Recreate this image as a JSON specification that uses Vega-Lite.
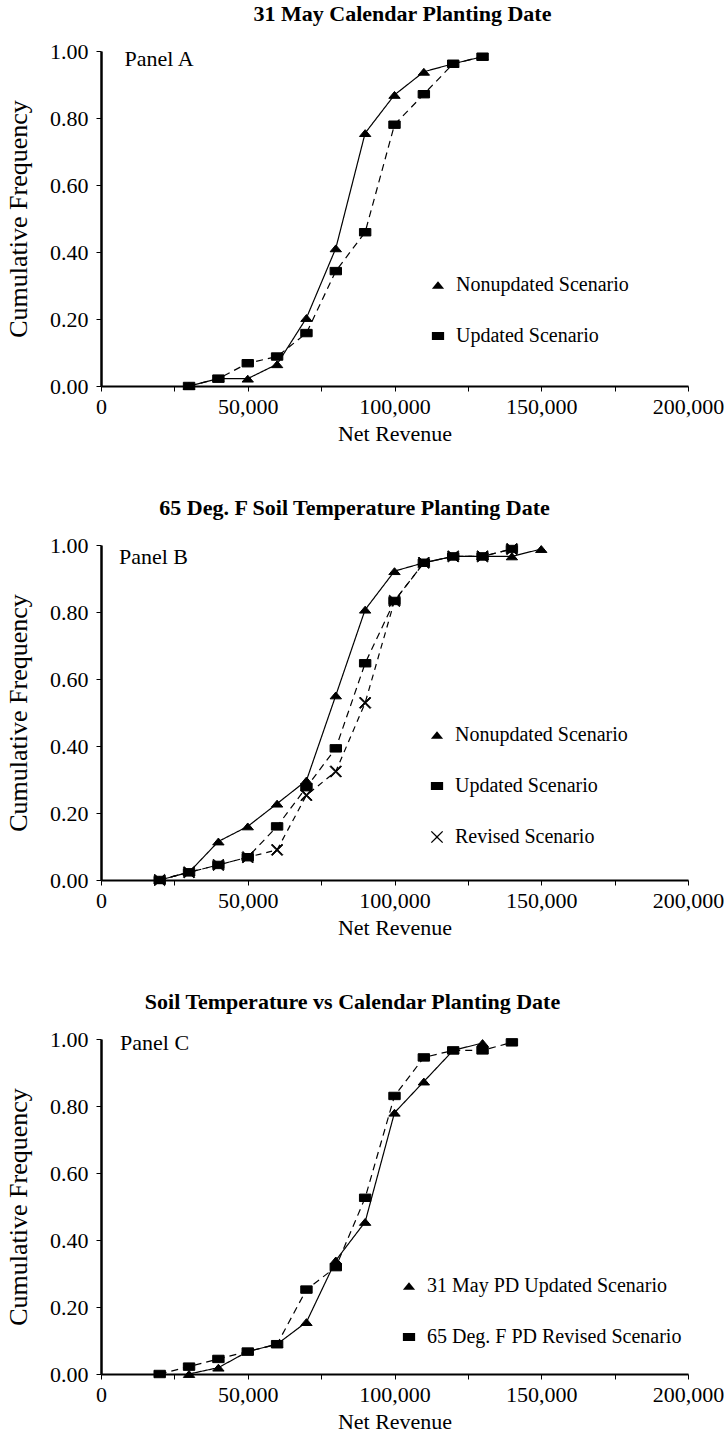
{
  "$schema": "https://vega.github.io/schema/vega-lite/v6.json",
  "background": "white",
  "padding": {"left": 5, "top": 3, "right": 0, "bottom": 0},
  "config": {
    "font": "Liberation Serif",
    "view": {"stroke": null},
    "axis": {
      "grid": false,
      "domainColor": "black",
      "tickColor": "black",
      "labelColor": "black",
      "titleColor": "black",
      "labelFontSize": 22,
      "titleFontSize": 22,
      "titleFontWeight": "normal",
      "labelFont": "Liberation Serif",
      "titleFont": "Liberation Serif",
      "tickSize": 5
    },
    "title": {"fontSize": 22, "fontWeight": "bold", "font": "Liberation Serif", "color": "black", "anchor": "middle", "frame": "group", "offset": 14},
    "legend": {
      "labelFontSize": 20,
      "labelFont": "Liberation Serif",
      "labelColor": "black",
      "labelLimit": 400,
      "symbolSize": 150,
      "labelOffset": 8,
      "rowPadding": 31,
      "symbolFillColor": "black",
      "symbolStrokeColor": "black",
      "symbolStrokeWidth": 1,
      "symbolOpacity": 1
    }
  },
  "datasets": {
    "A": [
      {"series": "Nonupdated Scenario", "revenue": 30000, "freq": 0},
      {"series": "Nonupdated Scenario", "revenue": 40000, "freq": 0.022},
      {"series": "Nonupdated Scenario", "revenue": 50000, "freq": 0.022},
      {"series": "Nonupdated Scenario", "revenue": 60000, "freq": 0.065},
      {"series": "Nonupdated Scenario", "revenue": 70000, "freq": 0.203},
      {"series": "Nonupdated Scenario", "revenue": 80000, "freq": 0.411},
      {"series": "Nonupdated Scenario", "revenue": 90000, "freq": 0.755},
      {"series": "Nonupdated Scenario", "revenue": 100000, "freq": 0.869},
      {"series": "Nonupdated Scenario", "revenue": 110000, "freq": 0.938},
      {"series": "Nonupdated Scenario", "revenue": 120000, "freq": 0.962},
      {"series": "Nonupdated Scenario", "revenue": 130000, "freq": 0.983},
      {"series": "Updated Scenario", "revenue": 30000, "freq": 0},
      {"series": "Updated Scenario", "revenue": 40000, "freq": 0.022},
      {"series": "Updated Scenario", "revenue": 50000, "freq": 0.068},
      {"series": "Updated Scenario", "revenue": 60000, "freq": 0.088},
      {"series": "Updated Scenario", "revenue": 70000, "freq": 0.158},
      {"series": "Updated Scenario", "revenue": 80000, "freq": 0.343},
      {"series": "Updated Scenario", "revenue": 90000, "freq": 0.459},
      {"series": "Updated Scenario", "revenue": 100000, "freq": 0.78},
      {"series": "Updated Scenario", "revenue": 110000, "freq": 0.871},
      {"series": "Updated Scenario", "revenue": 120000, "freq": 0.962},
      {"series": "Updated Scenario", "revenue": 130000, "freq": 0.983}
    ],
    "B": [
      {"series": "Nonupdated Scenario", "revenue": 20000, "freq": 0},
      {"series": "Nonupdated Scenario", "revenue": 30000, "freq": 0.023},
      {"series": "Nonupdated Scenario", "revenue": 40000, "freq": 0.115},
      {"series": "Nonupdated Scenario", "revenue": 50000, "freq": 0.16},
      {"series": "Nonupdated Scenario", "revenue": 60000, "freq": 0.228},
      {"series": "Nonupdated Scenario", "revenue": 70000, "freq": 0.297},
      {"series": "Nonupdated Scenario", "revenue": 80000, "freq": 0.551},
      {"series": "Nonupdated Scenario", "revenue": 90000, "freq": 0.807},
      {"series": "Nonupdated Scenario", "revenue": 100000, "freq": 0.922},
      {"series": "Nonupdated Scenario", "revenue": 110000, "freq": 0.947},
      {"series": "Nonupdated Scenario", "revenue": 120000, "freq": 0.966},
      {"series": "Nonupdated Scenario", "revenue": 130000, "freq": 0.966},
      {"series": "Nonupdated Scenario", "revenue": 140000, "freq": 0.966},
      {"series": "Nonupdated Scenario", "revenue": 150000, "freq": 0.988},
      {"series": "Revised Scenario", "revenue": 20000, "freq": 0},
      {"series": "Revised Scenario", "revenue": 30000, "freq": 0.023},
      {"series": "Revised Scenario", "revenue": 40000, "freq": 0.045},
      {"series": "Revised Scenario", "revenue": 50000, "freq": 0.068},
      {"series": "Revised Scenario", "revenue": 60000, "freq": 0.09},
      {"series": "Revised Scenario", "revenue": 70000, "freq": 0.253},
      {"series": "Revised Scenario", "revenue": 80000, "freq": 0.324},
      {"series": "Revised Scenario", "revenue": 90000, "freq": 0.529},
      {"series": "Revised Scenario", "revenue": 100000, "freq": 0.833},
      {"series": "Revised Scenario", "revenue": 110000, "freq": 0.947},
      {"series": "Revised Scenario", "revenue": 120000, "freq": 0.966},
      {"series": "Revised Scenario", "revenue": 130000, "freq": 0.966},
      {"series": "Revised Scenario", "revenue": 140000, "freq": 0.988},
      {"series": "Updated Scenario", "revenue": 20000, "freq": 0},
      {"series": "Updated Scenario", "revenue": 30000, "freq": 0.023},
      {"series": "Updated Scenario", "revenue": 40000, "freq": 0.045},
      {"series": "Updated Scenario", "revenue": 50000, "freq": 0.068},
      {"series": "Updated Scenario", "revenue": 60000, "freq": 0.16},
      {"series": "Updated Scenario", "revenue": 70000, "freq": 0.277},
      {"series": "Updated Scenario", "revenue": 80000, "freq": 0.393},
      {"series": "Updated Scenario", "revenue": 90000, "freq": 0.647},
      {"series": "Updated Scenario", "revenue": 100000, "freq": 0.833},
      {"series": "Updated Scenario", "revenue": 110000, "freq": 0.947},
      {"series": "Updated Scenario", "revenue": 120000, "freq": 0.966},
      {"series": "Updated Scenario", "revenue": 130000, "freq": 0.966},
      {"series": "Updated Scenario", "revenue": 140000, "freq": 0.988}
    ],
    "C": [
      {"series": "31 May PD Updated Scenario", "revenue": 30000, "freq": 0},
      {"series": "31 May PD Updated Scenario", "revenue": 40000, "freq": 0.019},
      {"series": "31 May PD Updated Scenario", "revenue": 50000, "freq": 0.067},
      {"series": "31 May PD Updated Scenario", "revenue": 60000, "freq": 0.089},
      {"series": "31 May PD Updated Scenario", "revenue": 70000, "freq": 0.155},
      {"series": "31 May PD Updated Scenario", "revenue": 80000, "freq": 0.339},
      {"series": "31 May PD Updated Scenario", "revenue": 90000, "freq": 0.454},
      {"series": "31 May PD Updated Scenario", "revenue": 100000, "freq": 0.78},
      {"series": "31 May PD Updated Scenario", "revenue": 110000, "freq": 0.873},
      {"series": "31 May PD Updated Scenario", "revenue": 120000, "freq": 0.966},
      {"series": "31 May PD Updated Scenario", "revenue": 130000, "freq": 0.988},
      {"series": "65 Deg. F PD Revised Scenario", "revenue": 20000, "freq": 0},
      {"series": "65 Deg. F PD Revised Scenario", "revenue": 30000, "freq": 0.022},
      {"series": "65 Deg. F PD Revised Scenario", "revenue": 40000, "freq": 0.045},
      {"series": "65 Deg. F PD Revised Scenario", "revenue": 50000, "freq": 0.067},
      {"series": "65 Deg. F PD Revised Scenario", "revenue": 60000, "freq": 0.089},
      {"series": "65 Deg. F PD Revised Scenario", "revenue": 70000, "freq": 0.252},
      {"series": "65 Deg. F PD Revised Scenario", "revenue": 80000, "freq": 0.319},
      {"series": "65 Deg. F PD Revised Scenario", "revenue": 90000, "freq": 0.526},
      {"series": "65 Deg. F PD Revised Scenario", "revenue": 100000, "freq": 0.83},
      {"series": "65 Deg. F PD Revised Scenario", "revenue": 110000, "freq": 0.945},
      {"series": "65 Deg. F PD Revised Scenario", "revenue": 120000, "freq": 0.966},
      {"series": "65 Deg. F PD Revised Scenario", "revenue": 130000, "freq": 0.966},
      {"series": "65 Deg. F PD Revised Scenario", "revenue": 140000, "freq": 0.99}
    ]
  },
  "resolve": {"scale": {"shape": "independent", "strokeDash": "independent"}, "legend": {"shape": "independent", "strokeDash": "independent"}},
  "spacing": 53,
  "vconcat": [
    {
      "width": 587,
      "height": 335,
      "title": {"text": "31 May Calendar Planting Date", "dx": 8},
      "layer": [
        {
          "data": {"name": "A"},
          "mark": {"type": "line", "color": "black", "strokeWidth": 1.2},
          "encoding": {
            "x": {"field": "revenue", "type": "quantitative", "scale": {"domain": [0, 200000], "nice": false},
              "axis": {"title": "Net Revenue", "values": [0, 25000, 50000, 75000, 100000, 125000, 150000, 175000, 200000], "labelExpr": "datum.value % 50000 === 0 ? format(datum.value, ',') : ''", "labelFlush": false, "labelOverlap": false, "labelPadding": 5, "titlePadding": 6, "domainWidth": 2}},
            "y": {"field": "freq", "type": "quantitative", "scale": {"domain": [0, 1], "nice": false},
              "axis": {"title": "Cumulative Frequency", "values": [0, 0.1, 0.2, 0.3, 0.4, 0.5, 0.6, 0.7, 0.8, 0.9, 1], "labelExpr": "round(datum.value * 10) % 2 === 0 ? format(datum.value, '.2f') : ''", "labelOverlap": false, "labelPadding": 8, "titlePadding": 18, "titleFontSize": 26, "domainWidth": 2.5}},
            "strokeDash": {"field": "series", "type": "nominal", "scale": {"domain": ["Updated Scenario", "Nonupdated Scenario"], "range": [[7, 5], [1, 0]]}, "legend": null}
          }
        },
        {
          "data": {"name": "A"},
          "mark": {"type": "point", "filled": true, "color": "black", "stroke": "black", "strokeWidth": 1, "opacity": 1, "size": 130},
          "encoding": {
            "x": {"field": "revenue", "type": "quantitative"},
            "y": {"field": "freq", "type": "quantitative"},
            "shape": {"field": "series", "type": "nominal",
              "scale": {"domain": ["Nonupdated Scenario", "Updated Scenario"], "range": ["M0,-0.6L1,0.6H-1Z", "M-1,-0.65H1V0.65H-1Z"]},
              "legend": {"title": null, "orient": "none", "legendX": 327, "legendY": 224}}
          }
        },
        {
          "data": {"values": [{"label": "Panel A"}]},
          "mark": {"type": "text", "align": "left", "baseline": "middle", "fontSize": 22, "color": "black"},
          "encoding": {
            "x": {"datum": 8000, "type": "quantitative"},
            "y": {"datum": 0.976, "type": "quantitative"},
            "text": {"field": "label"}
          }
        }
      ]
    },
    {
      "width": 587,
      "height": 335,
      "title": {"text": "65 Deg. F Soil Temperature Planting Date", "dx": -40},
      "layer": [
        {
          "data": {"name": "B"},
          "mark": {"type": "line", "color": "black", "strokeWidth": 1.2},
          "encoding": {
            "x": {"field": "revenue", "type": "quantitative", "scale": {"domain": [0, 200000], "nice": false},
              "axis": {"title": "Net Revenue", "values": [0, 25000, 50000, 75000, 100000, 125000, 150000, 175000, 200000], "labelExpr": "datum.value % 50000 === 0 ? format(datum.value, ',') : ''", "labelFlush": false, "labelOverlap": false, "labelPadding": 5, "titlePadding": 6, "domainWidth": 2}},
            "y": {"field": "freq", "type": "quantitative", "scale": {"domain": [0, 1], "nice": false},
              "axis": {"title": "Cumulative Frequency", "values": [0, 0.1, 0.2, 0.3, 0.4, 0.5, 0.6, 0.7, 0.8, 0.9, 1], "labelExpr": "round(datum.value * 10) % 2 === 0 ? format(datum.value, '.2f') : ''", "labelOverlap": false, "labelPadding": 8, "titlePadding": 18, "titleFontSize": 26, "domainWidth": 2.5}},
            "strokeDash": {"field": "series", "type": "nominal", "scale": {"domain": ["Revised Scenario", "Updated Scenario", "Nonupdated Scenario"], "range": [[6, 5], [7, 5], [1, 0]]}, "legend": null}
          }
        },
        {
          "data": {"name": "B"},
          "mark": {"type": "point", "filled": true, "color": "black", "stroke": "black", "strokeWidth": 1, "opacity": 1, "size": 130},
          "encoding": {
            "x": {"field": "revenue", "type": "quantitative"},
            "y": {"field": "freq", "type": "quantitative"},
            "shape": {"field": "series", "type": "nominal",
              "scale": {"domain": ["Nonupdated Scenario", "Updated Scenario", "Revised Scenario"], "range": ["M0,-0.6L1,0.6H-1Z", "M-1,-0.65H1V0.65H-1Z", "M-1,-0.85L-0.85,-1L0,-0.15L0.85,-1L1,-0.85L0.15,0L1,0.85L0.85,1L0,0.15L-0.85,1L-1,0.85L-0.15,0Z"]},
              "legend": {"title": null, "orient": "none", "legendX": 326, "legendY": 180}}
          }
        },
        {
          "data": {"values": [{"label": "Panel B"}]},
          "mark": {"type": "text", "align": "left", "baseline": "middle", "fontSize": 22, "color": "black"},
          "encoding": {
            "x": {"datum": 6100, "type": "quantitative"},
            "y": {"datum": 0.964, "type": "quantitative"},
            "text": {"field": "label"}
          }
        }
      ]
    },
    {
      "width": 587,
      "height": 335,
      "title": {"text": "Soil Temperature vs Calendar Planting Date", "dx": -42},
      "layer": [
        {
          "data": {"name": "C"},
          "mark": {"type": "line", "color": "black", "strokeWidth": 1.2},
          "encoding": {
            "x": {"field": "revenue", "type": "quantitative", "scale": {"domain": [0, 200000], "nice": false},
              "axis": {"title": "Net Revenue", "values": [0, 25000, 50000, 75000, 100000, 125000, 150000, 175000, 200000], "labelExpr": "datum.value % 50000 === 0 ? format(datum.value, ',') : ''", "labelFlush": false, "labelOverlap": false, "labelPadding": 5, "titlePadding": 6, "domainWidth": 2}},
            "y": {"field": "freq", "type": "quantitative", "scale": {"domain": [0, 1], "nice": false},
              "axis": {"title": "Cumulative Frequency", "values": [0, 0.1, 0.2, 0.3, 0.4, 0.5, 0.6, 0.7, 0.8, 0.9, 1], "labelExpr": "round(datum.value * 10) % 2 === 0 ? format(datum.value, '.2f') : ''", "labelOverlap": false, "labelPadding": 8, "titlePadding": 18, "titleFontSize": 26, "domainWidth": 2.5}},
            "strokeDash": {"field": "series", "type": "nominal", "scale": {"domain": ["65 Deg. F PD Revised Scenario", "31 May PD Updated Scenario"], "range": [[7, 5], [1, 0]]}, "legend": null}
          }
        },
        {
          "data": {"name": "C"},
          "mark": {"type": "point", "filled": true, "color": "black", "stroke": "black", "strokeWidth": 1, "opacity": 1, "size": 130},
          "encoding": {
            "x": {"field": "revenue", "type": "quantitative"},
            "y": {"field": "freq", "type": "quantitative"},
            "shape": {"field": "series", "type": "nominal",
              "scale": {"domain": ["31 May PD Updated Scenario", "65 Deg. F PD Revised Scenario"], "range": ["M0,-0.6L1,0.6H-1Z", "M-1,-0.65H1V0.65H-1Z"]},
              "legend": {"title": null, "orient": "none", "legendX": 298, "legendY": 237}}
          }
        },
        {
          "data": {"values": [{"label": "Panel C"}]},
          "mark": {"type": "text", "align": "left", "baseline": "middle", "fontSize": 22, "color": "black"},
          "encoding": {
            "x": {"datum": 6500, "type": "quantitative"},
            "y": {"datum": 0.988, "type": "quantitative"},
            "text": {"field": "label"}
          }
        }
      ]
    }
  ]
}
